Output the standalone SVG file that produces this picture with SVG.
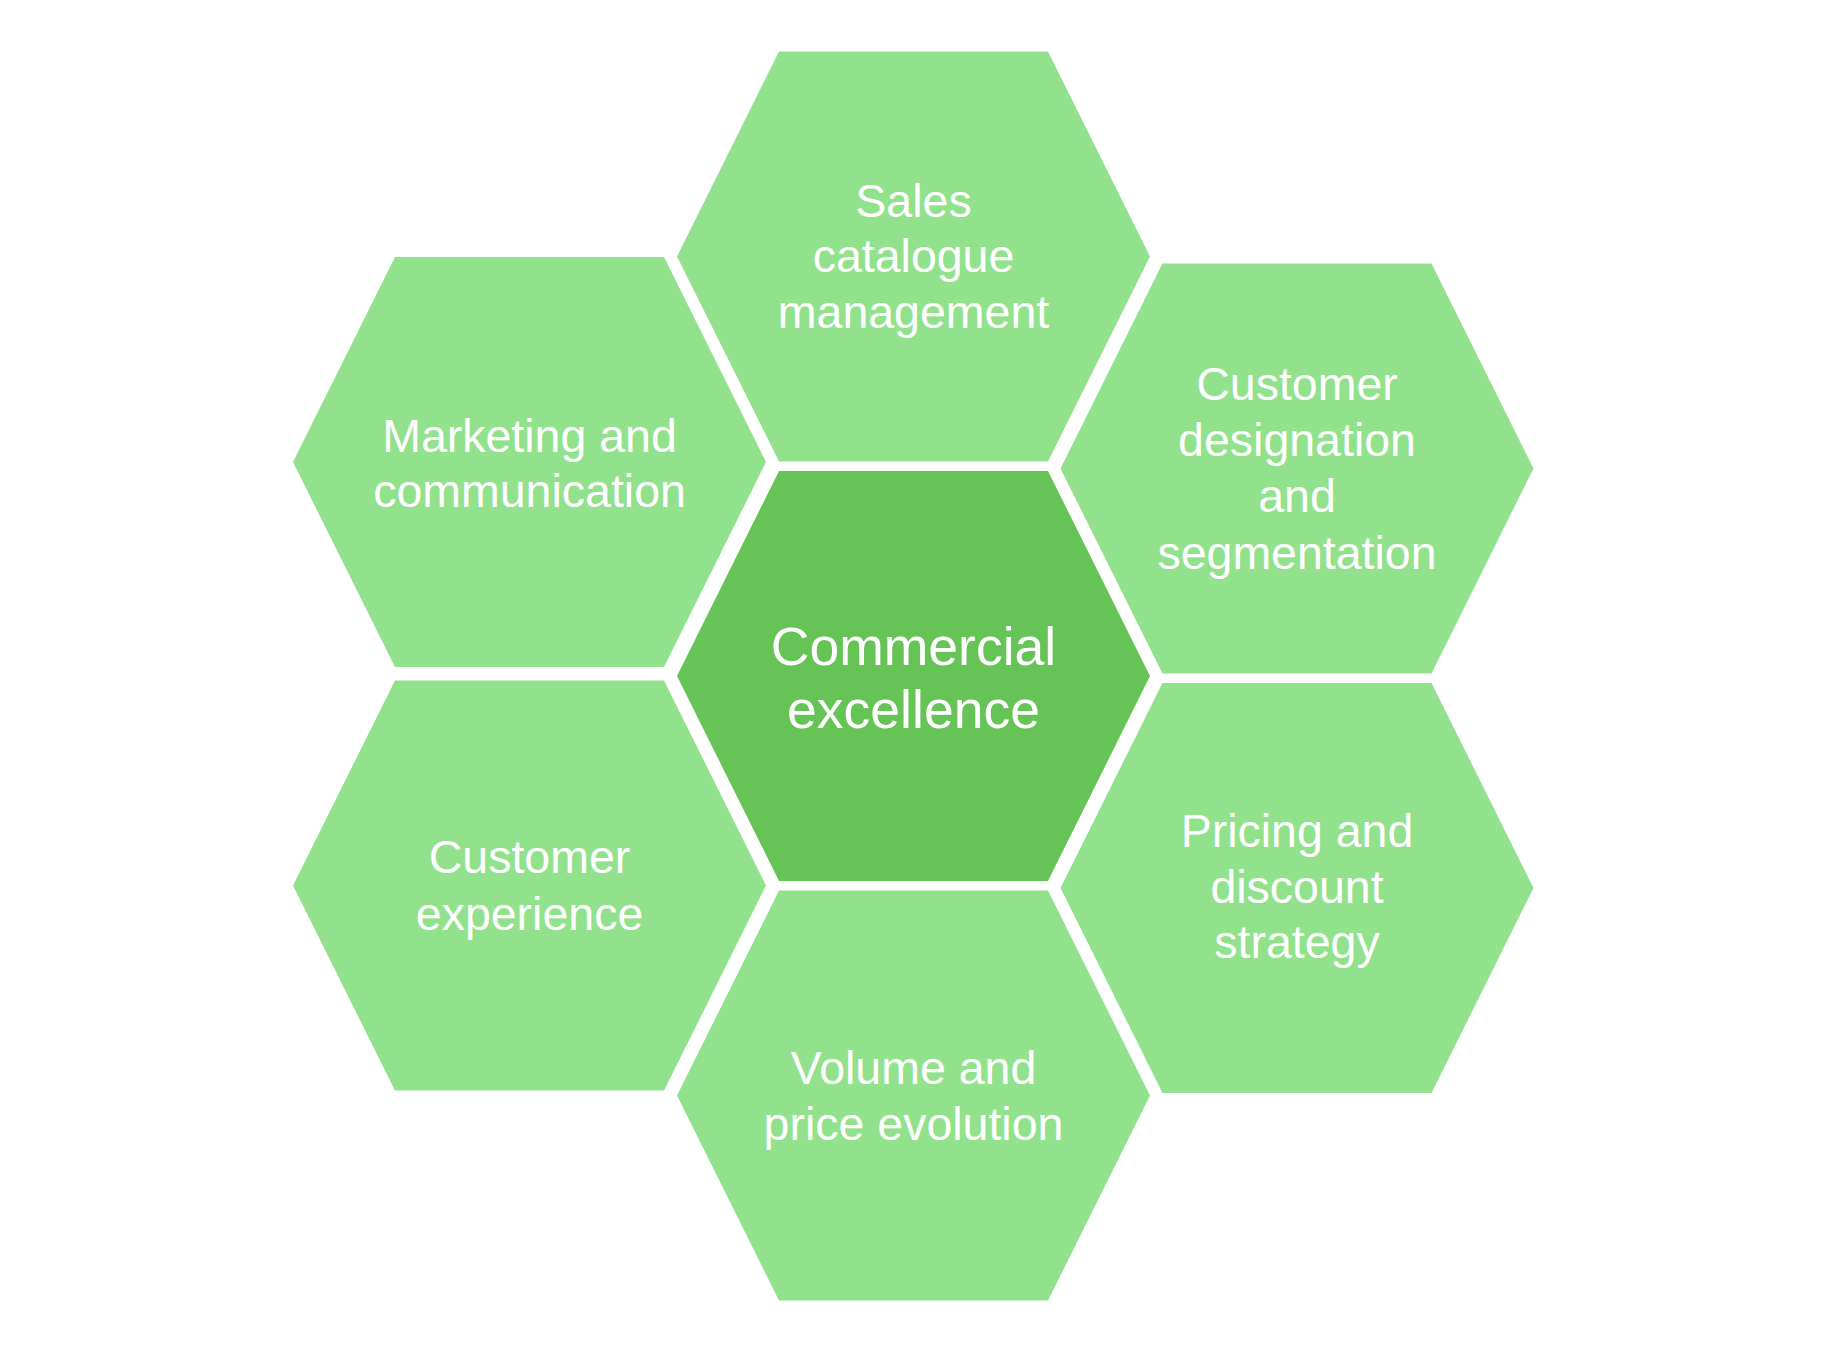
<svg xmlns="http://www.w3.org/2000/svg" xmlns:xlink="http://www.w3.org/1999/xlink" width="1844" height="1350" viewBox="0 0 1844 1350">
<style>
.hex{fill:#92E28D;}
.core{fill:#65C455;}
.lbl{font-family:"Liberation Sans",Arial,Helvetica,sans-serif;fill:#FFFFFF;text-anchor:middle;font-size:46.5px;}
.big{font-size:53.5px;}
</style>
<defs>
<polygon id="hx" points="-236.5,0 -134.5,-205 134.5,-205 236.5,0 134.5,205 -134.5,205"/>
</defs>
<rect x="0" y="0" width="1844" height="1350" fill="#FFFFFF"/>
<g id="connectors"/>
<g id="node-sales" transform="translate(913.5,256.5)">
<use xlink:href="#hx" href="#hx" class="hex"/>
<text class="lbl" x="0" y="-39.5">Sales</text>
<text class="lbl" x="0" y="15.5">catalogue</text>
<text class="lbl" x="0" y="71.5">management</text>
</g>
<g id="node-marketing" transform="translate(529.5,462)">
<use xlink:href="#hx" href="#hx" class="hex"/>
<text class="lbl" x="0" y="-10">Marketing and</text>
<text class="lbl" x="0" y="45">communication</text>
</g>
<g id="node-designation" transform="translate(1297,468.5)">
<use xlink:href="#hx" href="#hx" class="hex"/>
<text class="lbl" x="0" y="-68.5">Customer</text>
<text class="lbl" x="0" y="-12.5">designation</text>
<text class="lbl" x="0" y="43.5">and</text>
<text class="lbl" x="0" y="100.5">segmentation</text>
</g>
<g id="node-commercial" transform="translate(913.5,676)">
<use xlink:href="#hx" href="#hx" class="core"/>
<text class="lbl big" x="0" y="-11">Commercial</text>
<text class="lbl big" x="0" y="52">excellence</text>
</g>
<g id="node-experience" transform="translate(529.5,885.5)">
<use xlink:href="#hx" href="#hx" class="hex"/>
<text class="lbl" x="0" y="-12.5">Customer</text>
<text class="lbl" x="0" y="44.5">experience</text>
</g>
<g id="node-pricing" transform="translate(1297,888)">
<use xlink:href="#hx" href="#hx" class="hex"/>
<text class="lbl" x="0" y="-41.5">Pricing and</text>
<text class="lbl" x="0" y="15">discount</text>
<text class="lbl" x="0" y="70">strategy</text>
</g>
<g id="node-volume" transform="translate(913.5,1095.5)">
<use xlink:href="#hx" href="#hx" class="hex"/>
<text class="lbl" x="0" y="-11.5">Volume and</text>
<text class="lbl" x="0" y="44.5">price evolution</text>
</g>
</svg>
